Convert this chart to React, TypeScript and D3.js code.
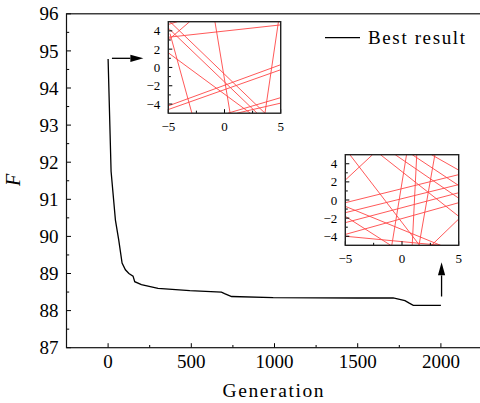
import React from "react";
import * as d3 from "d3";

const generations = [0, 18, 44, 64, 84, 104, 125, 150, 160, 200, 300, 491, 681, 700, 742, 992, 1500, 1713, 1784, 1810, 1834, 2000];
const bestF = [94.78, 91.75, 90.44, 89.9, 89.28, 89.1, 89.0, 88.93, 88.78, 88.7, 88.6, 88.54, 88.5, 88.46, 88.38, 88.35, 88.34, 88.34, 88.27, 88.2, 88.14, 88.14];

const xTicks = [0, 500, 1000, 1500, 2000];
const xMinor = [-250, 250, 750, 1250, 1750, 2250];
const yTicks = [87, 88, 89, 90, 91, 92, 93, 94, 95, 96];
const yMinor = [87.5, 88.5, 89.5, 90.5, 91.5, 92.5, 93.5, 94.5, 95.5];

// arrows: [genStart, FStart, genEnd, FEnd]
const arrow1 = [23, 94.8, 212, 94.8];
const arrow2 = [2004, 88.38, 2004, 89.3];

const insetXTicks = [-5, 0, 5];
const insetXMinor = [-2.5, 2.5];
const insetYTicks = [-4, -2, 0, 2, 4];
const insetYMinor = [-3, -1, 1, 3];

const inset1Lines = [
  [-5, 3.3, 5, 4.65],
  [-3.1, 5, -5, 3.0],
  [-5, 4.3, 2.9, -5],
  [-4.85, 5, 3.6, -5],
  [-0.85, 5, 0.5, -5],
  [4.8, 5, 3.6, -5],
  [-5, 1.6, 2.3, -5],
  [-5, -4.2, 5, 0.3],
  [-5, -4.6, 5, -0.25],
  [0.3, -5, 5, -3.3],
  [1.1, -5, 5, -3.9],
  [-4.85, 3.7, -2.9, -5],
  [-5, 4.7, -4.2, 5],
];

const inset2Lines = [
  [-5, 2.2, -2.6, 5],
  [-4.6, 5, 1.55, -5],
  [-5, -1.8, -1, -5],
  [-1.9, 5, 5, -1.8],
  [-0.6, 5, 5, 0.2],
  [0.9, 5, 5, 1.6],
  [2.6, 5, 5, 3.3],
  [-5, -0.3, 5, 2.8],
  [-5, -1.4, 5, 1.7],
  [-5, -2.5, 5, 0.8],
  [-5, -3.8, 5, -0.3],
  [-5, -0.7, 3.4, -5],
  [0.4, 5, -0.9, -5],
  [1.3, 5, 0.9, -5],
  [2.9, 5, 1.5, -5],
  [5, -2.1, 2.6, -5],
  [-5, -4.0, 3.4, -5],
];

const FONT = "'Liberation Serif', 'Times New Roman', serif";

function Arrow({ x1, y1, x2, y2 }: { x1: number; y1: number; x2: number; y2: number }) {
  const ang = Math.atan2(y2 - y1, x2 - x1);
  const L = 13, W = 3.6;
  const bx = x2 - L * Math.cos(ang), by = y2 - L * Math.sin(ang);
  const px = -Math.sin(ang) * W, py = Math.cos(ang) * W;
  return (
    <g>
      <line x1={x1} y1={y1} x2={bx} y2={by} stroke="#000" strokeWidth={1.3} />
      <path d={`M${x2},${y2}L${bx + px},${by + py}L${bx - px},${by - py}Z`} fill="#000" />
    </g>
  );
}

function Inset({ id, x0, y0, w, h, lines }: { id: string; x0: number; y0: number; w: number; h: number; lines: number[][] }) {
  const xs = d3.scaleLinear().domain([-5, 5]).range([x0, x0 + w]);
  const ys = d3.scaleLinear().domain([-5, 5]).range([y0 + h, y0]);
  return (
    <g>
      <defs>
        <clipPath id={id}>
          <rect x={x0} y={y0} width={w} height={h} />
        </clipPath>
      </defs>
      <rect x={x0} y={y0} width={w} height={h} fill="#fff" />
      <g clipPath={`url(#${id})`}>
        {lines.map((l, i) => (
          <line key={i} x1={xs(l[0])} y1={ys(l[1])} x2={xs(l[2])} y2={ys(l[3])} stroke="#ff4646" strokeWidth={0.9} />
        ))}
      </g>
      {insetXMinor.map((t) => (
        <line key={"xm" + t} x1={xs(t)} x2={xs(t)} y1={y0 + h} y2={y0 + h - 2.5} stroke="#000" strokeWidth={1} />
      ))}
      {insetXTicks.map((t) => (
        <line key={"xt" + t} x1={xs(t)} x2={xs(t)} y1={y0 + h} y2={y0 + h - 4} stroke="#000" strokeWidth={1} />
      ))}
      {insetYMinor.map((t) => (
        <line key={"ym" + t} x1={x0} x2={x0 + 2.5} y1={ys(t)} y2={ys(t)} stroke="#000" strokeWidth={1} />
      ))}
      {insetYTicks.map((t) => (
        <line key={"yt" + t} x1={x0} x2={x0 + 4} y1={ys(t)} y2={ys(t)} stroke="#000" strokeWidth={1} />
      ))}
      <rect x={x0} y={y0} width={w} height={h} fill="none" stroke="#222" strokeWidth={1.4} />
      {insetXTicks.map((t) => (
        <text key={"xl" + t} x={xs(t)} y={y0 + h + 17.5} textAnchor="middle" fontSize={13} fontFamily={FONT} fill="#000">
          {t < 0 ? "\u2212" + Math.abs(t) : String(t)}
        </text>
      ))}
      {insetYTicks.map((t) => (
        <text key={"yl" + t} x={x0 - 8} y={ys(t)} dy="0.35em" textAnchor="end" fontSize={13} fontFamily={FONT} fill="#000">
          {t < 0 ? "\u2212" + Math.abs(t) : String(t)}
        </text>
      ))}
    </g>
  );
}

export default function App() {
  const left = 66.5, right = 482.5, top = 13.8, bottom = 347.7;
  const x = d3.scaleLinear().domain([-250, 2250]).range([left, right]);
  const y = d3.scaleLinear().domain([87, 96]).range([bottom, top]);
  const line = d3
    .line<number>()
    .x((_, i) => x(generations[i]))
    .y((d) => y(d));
  return (
    <svg width={480} height={403} style={{ position: "absolute", left: 0, top: 0, background: "#fff" }}>
      <rect x={0} y={0} width={480} height={403} fill="#fff" />
      {xMinor.map((t) => (
        <line key={"xm" + t} x1={x(t)} x2={x(t)} y1={bottom} y2={bottom - 2.7} stroke="#000" strokeWidth={1} />
      ))}
      {xTicks.map((t) => (
        <line key={"xt" + t} x1={x(t)} x2={x(t)} y1={bottom} y2={bottom - 4.5} stroke="#000" strokeWidth={1} />
      ))}
      {yMinor.map((t) => (
        <line key={"ym" + t} x1={left} x2={left + 2.7} y1={y(t)} y2={y(t)} stroke="#000" strokeWidth={1} />
      ))}
      {yTicks.map((t) => (
        <line key={"yt" + t} x1={left} x2={left + 4.5} y1={y(t)} y2={y(t)} stroke="#000" strokeWidth={1} />
      ))}
      <rect x={left} y={top} width={right - left} height={bottom - top} fill="none" stroke="#111" strokeWidth={1.2} />
      {xTicks.map((t) => (
        <text key={"xl" + t} x={x(t)} y={bottom + 20.6} textAnchor="middle" fontSize={19} fontFamily={FONT} fill="#000">
          {t}
        </text>
      ))}
      {yTicks.map((t) => (
        <text key={"yl" + t} x={left - 8} y={y(t)} dy="0.35em" textAnchor="end" fontSize={19} fontFamily={FONT} fill="#000">
          {t}
        </text>
      ))}
      <text x={273} y={397} textAnchor="middle" fontSize={19.5} fontFamily={FONT} textLength={101} lengthAdjust="spacing" fill="#000">
        Generation
      </text>
      <text transform="translate(20,180) rotate(-90)" textAnchor="middle" fontSize={20} fontStyle="italic" fontFamily={FONT} fill="#000">
        F
      </text>
      <path d={line(bestF) || ""} fill="none" stroke="#000" strokeWidth={1.3} />
      <line x1={325} x2={360} y1={37.7} y2={37.7} stroke="#000" strokeWidth={1.3} />
      <text x={368} y={44} fontSize={19} fontFamily={FONT} textLength={97} lengthAdjust="spacing" fill="#000">
        Best result
      </text>
      <Arrow x1={x(arrow1[0])} y1={y(arrow1[1])} x2={x(arrow1[2])} y2={y(arrow1[3])} />
      <Arrow x1={x(arrow2[0])} y1={y(arrow2[1])} x2={x(arrow2[2])} y2={y(arrow2[3])} />
      <Inset id="clip1" x0={168.3} y0={21.7} w={112.4} h={91.5} lines={inset1Lines} />
      <Inset id="clip2" x0={345.3} y0={154.7} w={113.4} h={90.6} lines={inset2Lines} />
    </svg>
  );
}
